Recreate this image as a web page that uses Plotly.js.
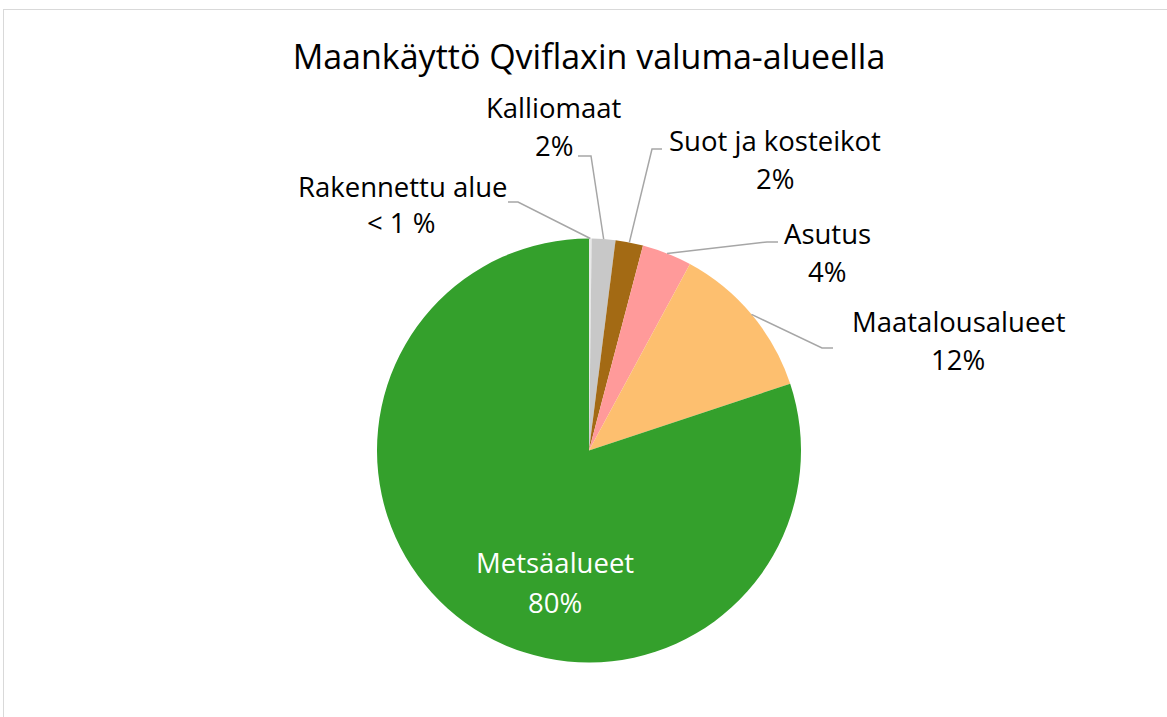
<!DOCTYPE html>
<html><head><meta charset="utf-8">
<script src="https://cdn.plot.ly/plotly-3.0.1.min.js"></script>
<style>
html,body{margin:0;padding:0;background:#fff;}
#wrap{position:relative;width:1167px;height:717px;overflow:hidden;}
#frame{position:absolute;left:3px;top:9px;width:1200px;height:760px;border:1px solid #d9d9d9;box-sizing:border-box;}
#chart{position:absolute;left:0;top:0;width:1167px;height:717px;}
</style></head>
<body><div id="wrap"><div id="frame"></div><div id="chart"></div></div>
<script>
const labels = ['Rakennettu alue','Kalliomaat','Suot ja kosteikot','Asutus','Maatalousalueet','Metsäalueet'];
const values = [0.2, 1.8, 2.1, 3.8, 12.0, 80.1];
const pctLabels = ['< 1 %','2%','2%','4%','12%','80%'];
const colors = ['#e8e8e8','#c8c8c8','#a36a14','#ff9a9a','#fdbf6f','#34a02c'];

const W=1167,H=717, CX=589, CY=450.5, R=212;
const FONT='"Open Sans", sans-serif';
const px=x=>x/W, py=y=>1-y/H;

const lay = [
  {name:[402,186], pct:[401,222], elbow:[518,202], end:[508,202]},
  {name:[554,107], pct:[554,146], elbow:[591,156], end:[578,156]},
  {name:[775,140], pct:[775,178], elbow:[652,149], end:[662,149]},
  {name:[827,233], pct:[827,271], elbow:[767,242], end:[778,242]},
  {name:[959,322], pct:[958,359], elbow:[822,348], end:[833,348]},
  {name:[555,562], pct:[555,602], inside:true}
];

const total = values.reduce((a,b)=>a+b,0);
let cum=0;
const annotations=[], shapes=[];
values.forEach((v,i)=>{
  const mid=(cum+v/2)/total*2*Math.PI; cum+=v;
  const L=lay[i];
  const col = L.inside ? '#ffffff' : '#000000';
  annotations.push({xref:'paper',yref:'paper',x:px(L.name[0]),y:py(L.name[1]),xanchor:'center',yanchor:'middle',showarrow:false,text:labels[i],font:{family:FONT,size:27.5,color:col}});
  annotations.push({xref:'paper',yref:'paper',x:px(L.pct[0]),y:py(L.pct[1]),xanchor:'center',yanchor:'middle',showarrow:false,text:pctLabels[i],font:{family:FONT,size:27.5,color:col}});
  if(!L.inside){
    const sx=CX+R*Math.sin(mid), sy=CY-R*Math.cos(mid);
    shapes.push({type:'path',xref:'paper',yref:'paper',
      path:`M ${px(sx)} ${py(sy)} L ${px(L.elbow[0])} ${py(L.elbow[1])} L ${px(L.end[0])} ${py(L.end[1])}`,
      line:{color:'#a6a6a6',width:1.5}});
  }
});

const trace={type:'pie',labels:labels,values:values,sort:false,direction:'clockwise',rotation:0,
  marker:{colors:colors,line:{width:0}},textinfo:'none',hoverinfo:'label+percent',
  domain:{x:[(CX-R)/W,(CX+R)/W],y:[1-(CY+R)/H,1-(CY-R)/H]},showlegend:false};

const layout={width:W,height:H,margin:{l:0,r:0,t:0,b:0},paper_bgcolor:'rgba(0,0,0,0)',plot_bgcolor:'rgba(0,0,0,0)',
  title:{text:'Maankäyttö Qviflaxin valuma-alueella',x:589/W,xanchor:'center',y:1-57/H,yanchor:'middle',font:{family:FONT,size:34,color:'#000'}},
  annotations:annotations,shapes:shapes,showlegend:false};

Plotly.newPlot('chart',[trace],layout,{displayModeBar:false,staticPlot:true});
</script></body></html>
